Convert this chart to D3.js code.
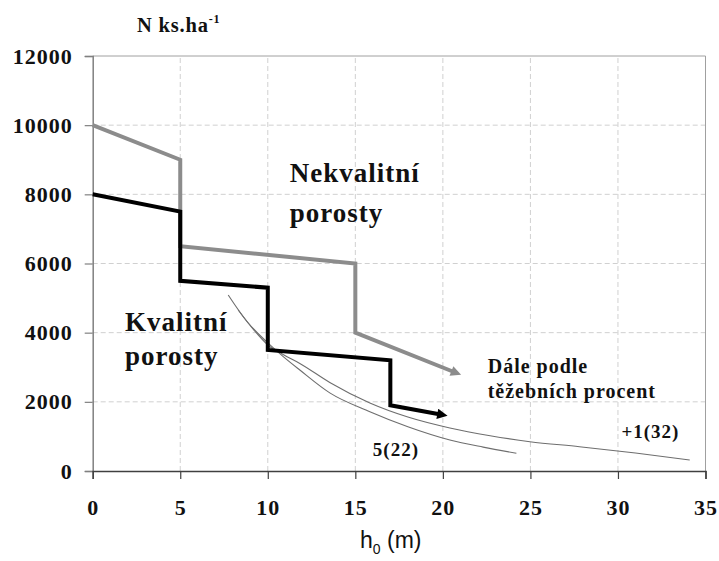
<!DOCTYPE html>
<html><head><meta charset="utf-8">
<script src="https://cdn.jsdelivr.net/npm/d3@7"></script>
<style>
html,body{margin:0;padding:0;background:#fff;}
svg text{font-family:"Liberation Serif","Times New Roman",serif;font-weight:bold;fill:#111;}
</style></head>
<body><svg id="c" width="719" height="561"></svg>
<script>
// ---- data ----
const xTicks = [0,5,10,15,20,25,30,35];
const yTicks = [0,2000,4000,6000,8000,10000,12000];
// Nekvalitní porosty (gray stepped line)
const hNek = [0,5,5,15,15,20.6];
const nNek = [10000,9000,6500,6000,4000,2870];
// Kvalitní porosty (black stepped line)
const hKval = [0,5,5,10,10,17,17,19.8];
const nKval = [8000,7500,5500,5300,3500,3200,1900,1640];
// thin curve 5(22)
const hC1 = [7.74,8.8,9.93,10.9,11.83,13.54,15.83,18.0,20.4,22.3,24.2];
const nC1 = [5090,4330,3739,3300,2920,2260,1715,1280,897,690,512];
// thin curve +1(32)
const hC2 = [8.31,9.2,10.0,10.9,11.83,13.54,15.83,18.0,20.4,22.7,24.97,27.8,31.0,34.1];
const nC2 = [4656,4080,3644,3360,3110,2560,1966,1560,1244,1020,847,703,520,318];
// annotations
const labels = [
  {t:"Nekvalitní", h:11.26, n:8360, size:27},
  {t:"porosty", h:11.26, n:7200, size:27},
  {t:"Kvalitní", h:1.84, n:4049, size:27},
  {t:"porosty", h:1.84, n:3066, size:27},
  {t:"Dále podle", h:22.56, n:2834, size:20},
  {t:"těžebních procent", h:22.56, n:2111, size:20},
  {t:"5(22)", h:16.0, n:434, size:19},
  {t:"+1(32)", h:30.2, n:954, size:19}
];

const svg = d3.select("#c");
const x = d3.scaleLinear().domain([0,35]).range([92.7,705.5]);
const y = d3.scaleLinear().domain([0,12000]).range([471,56]);

// grid
const grid = svg.append("g");
grid.selectAll(".gy").data(yTicks.filter(d=>d>0&&d<12000)).enter().append("line")
  .attr("x1",x(0)).attr("x2",x(35)).attr("y1",d=>y(d)).attr("y2",d=>y(d))
  .attr("stroke","#d0d0d0").attr("stroke-dasharray","5,3").attr("stroke-width",1);
grid.selectAll(".gx").data(xTicks.filter(d=>d>0&&d<35)).enter().append("line")
  .attr("y1",y(0)).attr("y2",y(12000)).attr("x1",d=>x(d)).attr("x2",d=>x(d))
  .attr("stroke","#d0d0d0").attr("stroke-dasharray","5,3").attr("stroke-width",1);
// frame top & right
svg.append("line").attr("x1",x(0)).attr("x2",x(35)).attr("y1",y(12000)).attr("y2",y(12000))
  .attr("stroke","#a0a0a0").attr("stroke-width",1);
svg.append("line").attr("x1",x(35)).attr("x2",x(35)).attr("y1",y(12000)).attr("y2",y(0))
  .attr("stroke","#a0a0a0").attr("stroke-width",1);

// axes
const yAxis = d3.axisLeft(y).tickValues(yTicks).tickSize(8).tickPadding(12).tickFormat(d3.format("d"));
const gy = svg.append("g").attr("transform",`translate(${x(0)},0)`).call(yAxis);
gy.select(".domain").attr("stroke","#808080").attr("stroke-width",1.5);
gy.selectAll(".tick line").attr("stroke","#808080").attr("stroke-width",1.2);
gy.selectAll(".tick text").attr("font-size",22).style("letter-spacing","1px")
  .attr("font-family","Liberation Serif").attr("font-weight","bold").attr("fill","#111");

const xAxis = d3.axisBottom(x).tickValues(xTicks).tickSize(8).tickPadding(20);
const gx = svg.append("g").attr("transform",`translate(0,${y(0)})`).call(xAxis);
gx.select(".domain").attr("stroke","#404040").attr("stroke-width",1.5);
gx.selectAll(".tick line").attr("stroke","#404040").attr("stroke-width",1.2);
gx.selectAll(".tick text").attr("font-size",22).style("letter-spacing","1px")
  .attr("font-family","Liberation Serif").attr("font-weight","bold").attr("fill","#111");

// markers
const defs = svg.append("defs");
function marker(id,color){
  defs.append("marker").attr("id",id).attr("viewBox","0 0 10 10").attr("refX",2).attr("refY",5)
    .attr("markerWidth",3.6).attr("markerHeight",2.6).attr("orient","auto")
    .attr("markerUnits","strokeWidth")
    .append("path").attr("d","M0,0 L10,5 L0,10 Z").attr("fill",color);
}
marker("ag","#8c8c8c");
marker("ab","#000");

const line = d3.line().x(d=>x(d[0])).y(d=>y(d[1]));
const smooth = d3.line().x(d=>x(d[0])).y(d=>y(d[1])).curve(d3.curveMonotoneX);

// thin curves
svg.append("path").attr("d",smooth(hC1.map((h,i)=>[h,nC1[i]])))
  .attr("fill","none").attr("stroke","#6e6e6e").attr("stroke-width",1.1);
svg.append("path").attr("d",smooth(hC2.map((h,i)=>[h,nC2[i]])))
  .attr("fill","none").attr("stroke","#6e6e6e").attr("stroke-width",1.1);

// stepped lines
svg.append("path").attr("d",line(hNek.map((h,i)=>[h,nNek[i]])))
  .attr("fill","none").attr("stroke","#8c8c8c").attr("stroke-width",4)
  .attr("stroke-linejoin","miter").attr("marker-end","url(#ag)");
svg.append("path").attr("d",line(hKval.map((h,i)=>[h,nKval[i]])))
  .attr("fill","none").attr("stroke","#000").attr("stroke-width",4)
  .attr("stroke-linejoin","miter").attr("marker-end","url(#ab)");

// labels
svg.selectAll(".lab").data(labels).enter().append("text")
  .attr("x",d=>x(d.h)).attr("y",d=>y(d.n)).attr("font-size",d=>d.size)
  .style("letter-spacing","1px").text(d=>d.t);

// y title
const yt = svg.append("text").attr("x",137).attr("y",32).attr("font-size",20.5).style("letter-spacing","0.8px");
yt.append("tspan").text("N ks.ha");
yt.append("tspan").attr("dy",-9).attr("font-size",12).text("-1");

// x title
const xt = svg.append("text").attr("x",360).attr("y",548).attr("font-size",23)
  .style("font-family","Liberation Sans, Arial, sans-serif").style("font-weight","normal");
xt.append("tspan").text("h");
xt.append("tspan").attr("dy",6).attr("font-size",14).text("0");
xt.append("tspan").attr("dy",-6).text(" (m)");
</script></body></html>
